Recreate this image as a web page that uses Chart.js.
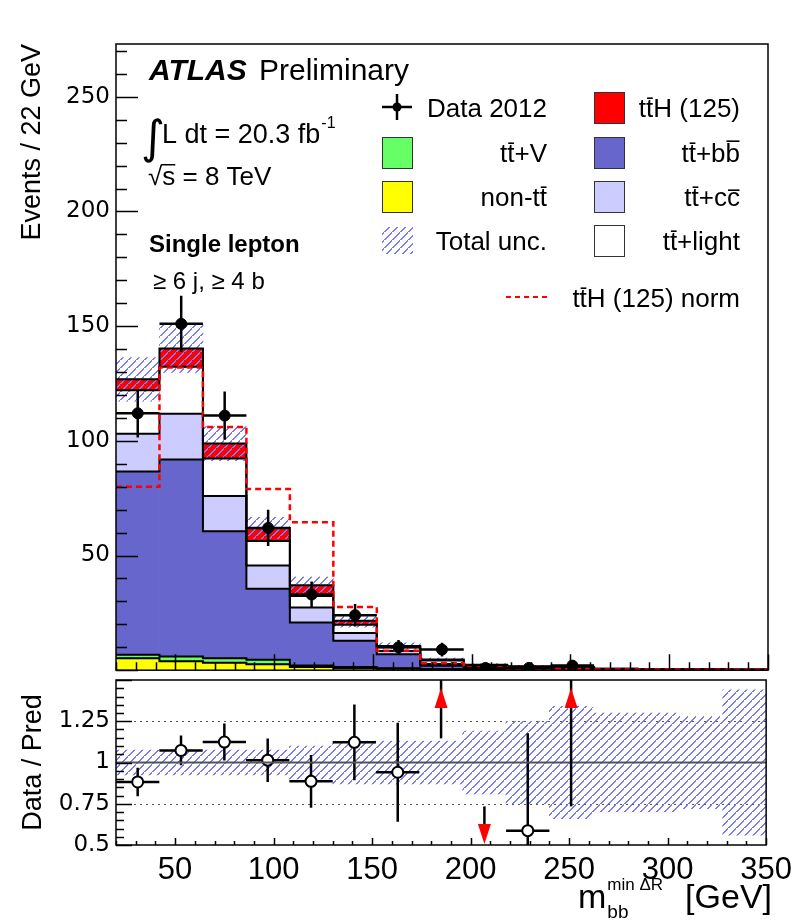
<!DOCTYPE html>
<html>
<head>
<meta charset="utf-8">
<script src="https://cdn.jsdelivr.net/npm/chart.js@4.4.1/dist/chart.umd.min.js"></script>
<style>
  html, body { margin: 0; padding: 0; background: #fff; }
  #wrap { position: relative; width: 799px; height: 923px; overflow: hidden; }
  #cMain { position: absolute; left: 0; top: 0; }
  #cRatio { position: absolute; left: 0; top: 660px; }
</style>
</head>
<body>
<div id="wrap">
  <canvas id="cMain" width="799" height="690"></canvas>
  <canvas id="cRatio" width="799" height="263"></canvas>
</div>
<script>
// bins of 22 GeV between 20 and 350 GeV
const binCenters = [31, 53, 75, 97, 119, 141, 163, 185, 207, 229, 251, 273, 295, 317, 339];
const binHalf = 11;

// stacked predictions, bottom -> top (events / bin)
const nonTT   = [5.2, 3.9, 3.3, 2.6, 1.4, 0.9, 0.6, 0.3, 0.2, 0.1, 0.1, 0.05, 0.05, 0.03, 0.02];
const ttV     = [1.5, 2.1, 1.9, 2.0, 0.6, 0.5, 0.3, 0.1, 0.1, 0.05, 0.05, 0.02, 0.02, 0.01, 0.01];
const ttbb    = [79.9, 85.9, 55.4, 30.9, 18.8, 11.4, 6.0, 1.5, 1.0, 0.7, 0.5, 0.3, 0.25, 0.2, 0.15];
const ttcc    = [16.5, 19.9, 15.3, 10.1, 6.5, 3.4, 1.5, 0.8, 0.4, 0.3, 0.2, 0.1, 0.1, 0.08, 0.06];
const ttlight = [18.9, 20.5, 16.4, 10.7, 5.1, 3.6, 1.6, 1.5, 0.5, 0.4, 0.3, 0.12, 0.1, 0.08, 0.06];
const ttH     = [4.8, 8.0, 6.5, 5.7, 4.6, 1.8, 0.6, 0.5, 0.2, 0.15, 0.1, 0.05, 0.04, 0.03, 0.02];

// ttH normalised to the total background (dashed red)
const ttHnorm = [80, 132, 106, 79, 64.5, 27.5, 8.5, 3.0, 1.3, 0.6, 0.5, 0.3, 0.3, 0.2, 0.2];

// total relative uncertainty (hatched band)
const relUnc = [0.075, 0.075, 0.075, 0.075, 0.10, 0.13, 0.13, 0.13, 0.19, 0.25, 0.34, 0.30, 0.30, 0.28, 0.44];

// data 2012
const dataVals = [112, 151, 111, 62, 33, 24, 10, 9, 1, 1, 2, null, null, null, null];
const dataErr  = [10.6, 12.3, 10.5, 7.9, 5.7, 4.9, 3.2, 3.0, 1.0, 1.0, 1.4, null, null, null, null];

// ratio panel
const ratioVal = [0.882, 1.073, 1.124, 1.014, 0.886, 1.122, 0.941, null, null, 0.587, null, null, null, null, null];
const ratioErr = [0.086, 0.09, 0.112, 0.132, 0.16, 0.23, 0.30, null, null, 0.59, null, null, null, null, null];
// out of range: +1 arrow up, -1 arrow down, with the end of the error bar
const arrowDir  = [0, 0, 0, 0, 0, 0, 0, 1, -1, 0, 1, 0, 0, 0, 0];
const arrowFrom = [null, null, null, null, null, null, null, 1.146, 0.734, null, 0.734, null, null, null, null];

const FONT = '"Liberation Sans", Arial, sans-serif';
const NUMFONT = '"DejaVu Sans", sans-serif';
const HATCH = '#7a7aff';

// "/" hatch tile, 2px wide strokes so the blue survives
function makeHatch(ctx) {
  const c = document.createElement('canvas');
  c.width = 8; c.height = 8;
  const g = c.getContext('2d');
  g.fillStyle = HATCH;
  for (let i = 0; i < 8; i++) g.fillRect(i, 7 - i, 2, 1);
  g.fillRect(0, 7, 1, 1);
  return ctx.createPattern(c, 'repeat');
}

function stepPoints(vals) {
  const pts = vals.map((v, i) => ({ x: binCenters[i] - binHalf, y: v }));
  pts.push({ x: binCenters[vals.length - 1] + binHalf, y: vals[vals.length - 1] });
  return pts;
}

// text with ROOT style bars: "~t" = t with an overline
function drawRich(ctx, str, x, y, size, align, weight) {
  ctx.font = (weight || 'normal') + ' ' + size + 'px ' + FONT;
  const chars = [];
  for (let i = 0; i < str.length; i++) {
    if (str[i] === '~') { chars.push({ c: str[i + 1], bar: true }); i++; }
    else chars.push({ c: str[i], bar: false });
  }
  const plain = chars.map(o => o.c).join('');
  const w = ctx.measureText(plain).width;
  const x0 = align === 'right' ? x - w : x;
  ctx.textAlign = 'left';
  ctx.textBaseline = 'alphabetic';
  ctx.fillText(plain, x0, y);
  let acc = '';
  chars.forEach(o => {
    const a = x0 + ctx.measureText(acc).width;
    acc += o.c;
    if (o.bar) {
      const b = x0 + ctx.measureText(acc).width;
      const asc = Math.max(ctx.measureText(o.c).actualBoundingBoxAscent, size * 0.5);
      ctx.fillRect(a + 1, y - asc - size * 0.1, b - a - 1.5, 1.6);
    }
  });
  return w;
}

function frameTicks(cfg) {
  return {
    id: 'frameTicks',
    afterDatasetsDraw(chart) {
      const { ctx, chartArea: a } = chart;
      const x = chart.scales.x, y = chart.scales.y;
      ctx.save();
      ctx.strokeStyle = '#000';
      ctx.lineWidth = 1.5;
      ctx.beginPath();
      const ny = Math.round((y.max - y.min) / cfg.yMinor);
      for (let k = 0; k <= ny; k++) {
        const v = y.min + k * cfg.yMinor;
        const maj = Math.abs(v / cfg.yMajor - Math.round(v / cfg.yMajor)) < 1e-6;
        const py = Math.round(y.getPixelForValue(v)) + 0.5;
        ctx.moveTo(a.left, py); ctx.lineTo(a.left + (maj ? cfg.yMajLen : cfg.yMinLen), py);
      }
      const nx = Math.round((x.max - x.min) / 10);
      for (let k = 0; k <= nx; k++) {
        const v = x.min + k * 10;
        const maj = v % 50 === 0;
        const px = Math.round(x.getPixelForValue(v)) + 0.5;
        ctx.moveTo(px, a.bottom); ctx.lineTo(px, a.bottom - (maj ? cfg.xMajLen : cfg.xMinLen));
      }
      ctx.stroke();
      ctx.strokeRect(a.left, a.top, a.right - a.left, a.bottom - a.top);
      ctx.restore();
    }
  };
}

function clipTo(ctx, a) {
  ctx.save();
  ctx.beginPath();
  ctx.rect(a.left, a.top, a.right - a.left, a.bottom - a.top);
  ctx.clip();
}

// error bars, drawn just before the dataset that carries them
const errorBars = {
  id: 'errorBars',
  beforeDatasetDraw(chart, args) {
    const ds = chart.data.datasets[args.index];
    if (!ds.errY) return;
    const { ctx, chartArea } = chart;
    const x = chart.scales.x, y = chart.scales.y;
    clipTo(ctx, chartArea);
    ctx.strokeStyle = '#000';
    ctx.lineWidth = 2.5;
    ctx.beginPath();
    ds.data.forEach((p, i) => {
      const e = ds.errY[i];
      const px = x.getPixelForValue(p.x), py = y.getPixelForValue(p.y);
      ctx.moveTo(x.getPixelForValue(p.x - binHalf), py);
      ctx.lineTo(x.getPixelForValue(p.x + binHalf), py);
      ctx.moveTo(px, y.getPixelForValue(p.y - e));
      ctx.lineTo(px, y.getPixelForValue(p.y + e));
    });
    ctx.stroke();
    ctx.restore();
  }
};

// ---------- main panel ----------
const mainCtx = document.getElementById('cMain').getContext('2d');
const hatchMain = makeHatch(mainCtx);

const comps = [
  { vals: nonTT,   color: '#ffff00' },
  { vals: ttV,     color: '#66ff66' },
  { vals: ttbb,    color: '#6666cc' },
  { vals: ttcc,    color: '#ccccff' },
  { vals: ttlight, color: '#ffffff' },
  { vals: ttH,     color: '#ff0000' }
];

let cum = binCenters.map(() => 0);
const mainSets = [];
comps.forEach(c => {
  const lo = cum.slice();
  cum = cum.map((v, i) => v + c.vals[i]);
  mainSets.push({
    type: 'bar',
    data: binCenters.map((xc, i) => ({ x: xc, y: [lo[i], cum[i]] })),
    backgroundColor: c.color,
    borderWidth: 0,
    grouped: false,
    barPercentage: 1,
    categoryPercentage: 1,
    order: 10
  });
  mainSets.push({
    type: 'line',
    data: stepPoints(cum),
    stepped: 'before',
    borderColor: '#000',
    borderWidth: 2,
    pointRadius: 0,
    fill: false,
    order: 7
  });
});
const total = cum.slice();

mainSets.push({
  type: 'bar',
  data: binCenters.map((xc, i) => ({ x: xc, y: [total[i] * (1 - relUnc[i]), total[i] * (1 + relUnc[i])] })),
  backgroundColor: hatchMain,
  borderWidth: 0,
  grouped: false,
  barPercentage: 1,
  categoryPercentage: 1,
  order: 8
});

mainSets.push({
  type: 'line',
  data: stepPoints(ttHnorm),
  stepped: 'before',
  borderColor: '#ff0000',
  borderWidth: 2.5,
  borderDash: [6, 4],
  pointRadius: 0,
  fill: false,
  order: 4
});

const dataPts = [], dataE = [];
binCenters.forEach((xc, i) => {
  if (dataVals[i] !== null) { dataPts.push({ x: xc, y: dataVals[i] }); dataE.push(dataErr[i]); }
});
mainSets.push({
  type: 'scatter',
  data: dataPts,
  errY: dataE,
  pointRadius: 5.5,
  pointBackgroundColor: '#000',
  pointBorderColor: '#000',
  order: 1
});

const mainLabels = {
  id: 'mainLabels',
  afterDraw(chart) {
    const ctx = chart.ctx;
    ctx.save();
    ctx.fillStyle = '#000';
    ctx.textBaseline = 'alphabetic';
    ctx.textAlign = 'left';
    ctx.font = 'italic bold 30px ' + FONT;
    ctx.fillText('ATLAS', 149, 80);
    ctx.font = '30px ' + FONT;
    ctx.fillText('Preliminary', 259, 80);

    ctx.font = '46px "DejaVu Sans", sans-serif';
    ctx.fillText('\u222B', 141, 153);
    ctx.font = '27px ' + FONT;
    const lumi = 'L dt = 20.3 fb';
    ctx.fillText(lumi, 162, 143);
    const wl = ctx.measureText(lumi).width;
    ctx.font = '16px ' + FONT;
    ctx.fillText('-1', 162 + wl + 1, 128);

    ctx.font = '26px ' + FONT;
    const wr = ctx.measureText('\u221A').width;
    const ws = ctx.measureText('s').width;
    ctx.fillText('\u221As = 8 TeV', 148, 185);
    ctx.fillRect(148 + wr - 1, 185 - 21, ws + 1, 1.5);

    ctx.font = 'bold 24px ' + FONT;
    ctx.fillText('Single lepton', 149, 252);
    ctx.font = '24px ' + FONT;
    ctx.fillText('\u2265 6 j, \u2265 4 b', 153, 289);

    // legend
    const rows = [107, 152, 196, 240];
    // data marker
    ctx.strokeStyle = '#000';
    ctx.lineWidth = 2.5;
    ctx.beginPath();
    ctx.moveTo(382, rows[0]); ctx.lineTo(412, rows[0]);
    ctx.moveTo(397, rows[0] - 13); ctx.lineTo(397, rows[0] + 13);
    ctx.stroke();
    ctx.beginPath(); ctx.arc(397, rows[0], 4.5, 0, Math.PI * 2); ctx.fill();

    const box = (x, yc, fill) => {
      ctx.fillStyle = fill;
      ctx.fillRect(x, yc - 15, 30, 31);
      ctx.strokeStyle = '#333';
      ctx.lineWidth = 1;
      ctx.strokeRect(x + 0.5, yc - 14.5, 30, 31);
      ctx.fillStyle = '#000';
    };
    box(382, rows[1], '#66ff66');
    box(382, rows[2], '#ffff00');
    ctx.fillStyle = hatchMain;
    ctx.fillRect(382, rows[3] - 13, 31, 27);
    ctx.fillStyle = '#000';
    box(594, rows[0], '#ff0000');
    box(594, rows[1], '#6666cc');
    box(594, rows[2], '#ccccff');
    box(594, rows[3], '#ffffff');

    drawRich(ctx, 'Data 2012', 547, rows[0] + 10, 26, 'right');
    drawRich(ctx, 't~t+V', 547, rows[1] + 10, 26, 'right');
    drawRich(ctx, 'non-t~t', 547, rows[2] + 10, 26, 'right');
    drawRich(ctx, 'Total unc.', 547, rows[3] + 10, 26, 'right');
    drawRich(ctx, 't~tH (125)', 740, rows[0] + 10, 26, 'right');
    drawRich(ctx, 't~t+b~b', 740, rows[1] + 10, 26, 'right');
    drawRich(ctx, 't~t+c~c', 740, rows[2] + 10, 26, 'right');
    drawRich(ctx, 't~t+light', 740, rows[3] + 10, 26, 'right');

    ctx.strokeStyle = '#ff0000';
    ctx.lineWidth = 2;
    ctx.setLineDash([5, 4]);
    ctx.beginPath(); ctx.moveTo(506, 297); ctx.lineTo(548, 297); ctx.stroke();
    ctx.setLineDash([]);
    drawRich(ctx, 't~tH (125) norm', 740, 307, 26, 'right');
    ctx.restore();
  }
};

new Chart(mainCtx, {
  type: 'bar',
  data: { datasets: mainSets },
  options: {
    responsive: false,
    animation: false,
    devicePixelRatio: 1,
    layout: { padding: { top: 44, right: 31, bottom: 10, left: 0 } },
    plugins: { legend: { display: false }, tooltip: { enabled: false } },
    scales: {
      x: {
        type: 'linear', min: 20, max: 350, display: false, offset: false,
        ticks: { stepSize: 50, includeBounds: false }
      },
      y: {
        type: 'linear', min: 0, max: 273,
        afterFit: s => { s.width = 116; },
        grid: { display: false, drawTicks: false },
        border: { display: false },
        ticks: {
          stepSize: 50, includeBounds: false, padding: 6, color: '#000',
          font: { family: NUMFONT, size: 23 },
          callback: v => (v === 0 ? '' : String(v))
        },
        title: {
          display: true, text: 'Events / 22 GeV', align: 'end', color: '#000',
          font: { family: FONT, size: 27 }, padding: { top: 16, bottom: 0 }
        }
      }
    }
  },
  plugins: [errorBars, frameTicks({ yMinor: 10, yMajor: 50, yMajLen: 22, yMinLen: 11, xMajLen: 16, xMinLen: 8 }), mainLabels]
});

// ---------- ratio panel ----------
const ratioCtx = document.getElementById('cRatio').getContext('2d');
const hatchRatio = makeHatch(ratioCtx);

const ratioPts = [], ratioE = [];
binCenters.forEach((xc, i) => {
  if (ratioVal[i] !== null) { ratioPts.push({ x: xc, y: ratioVal[i] }); ratioE.push(ratioErr[i]); }
});

const ratioExtras = {
  id: 'ratioExtras',
  beforeDatasetsDraw(chart) {
    const { ctx, chartArea: a } = chart;
    const y = chart.scales.y;
    ctx.save();
    ctx.strokeStyle = '#555';
    ctx.lineWidth = 1.2;
    ctx.setLineDash([2, 4]);
    [1.25, 0.75].forEach(v => {
      const py = Math.round(y.getPixelForValue(v)) + 0.5;
      ctx.beginPath(); ctx.moveTo(a.left, py); ctx.lineTo(a.right, py); ctx.stroke();
    });
    ctx.setLineDash([]);
    ctx.restore();
  },
  afterDatasetsDraw(chart) {
    const { ctx, chartArea: a } = chart;
    const x = chart.scales.x, y = chart.scales.y;
    ctx.save();
    // unit line
    ctx.strokeStyle = '#555';
    ctx.lineWidth = 2;
    const p1 = y.getPixelForValue(1);
    ctx.beginPath(); ctx.moveTo(a.left, p1); ctx.lineTo(a.right, p1); ctx.stroke();
    binCenters.forEach((xc, i) => {
      if (!arrowDir[i]) return;
      const px = x.getPixelForValue(xc);
      const pf = y.getPixelForValue(arrowFrom[i]);
      ctx.strokeStyle = '#000';
      ctx.lineWidth = 2.5;
      ctx.beginPath();
      ctx.fillStyle = '#ff0000';
      if (arrowDir[i] > 0) {
        ctx.moveTo(px, pf); ctx.lineTo(px, a.top); ctx.stroke();
        ctx.beginPath();
        ctx.moveTo(px, a.top + 8); ctx.lineTo(px + 6.5, a.top + 28); ctx.lineTo(px - 6.5, a.top + 28);
        ctx.closePath(); ctx.fill();
      } else {
        ctx.moveTo(px, pf); ctx.lineTo(px, a.bottom - 20); ctx.stroke();
        ctx.beginPath();
        ctx.moveTo(px, a.bottom - 1); ctx.lineTo(px + 6.5, a.bottom - 21); ctx.lineTo(px - 6.5, a.bottom - 21);
        ctx.closePath(); ctx.fill();
      }
    });
    ctx.restore();
  },
  afterDraw(chart) {
    const ctx = chart.ctx;
    ctx.save();
    ctx.fillStyle = '#000';
    ctx.textBaseline = 'alphabetic';
    ctx.textAlign = 'left';
    // m_bb^{min ΔR} [GeV]
    const base = 248;
    ctx.font = '34px ' + FONT;
    const wg = ctx.measureText('[GeV]').width;
    const wm = ctx.measureText('m').width;
    ctx.font = '17px ' + FONT;
    const wsup = ctx.measureText('min \u0394R').width;
    const xg = 772 - wg;
    const xs = xg - 22 - wsup;
    const xm = xs - wm - 1;
    ctx.font = '34px ' + FONT;
    ctx.fillText('m', xm, base);
    ctx.fillText('[GeV]', xg, base);
    ctx.font = '17px ' + FONT;
    ctx.fillText('min \u0394R', xs, base - 18);
    ctx.font = '19px ' + FONT;
    ctx.fillText('bb', xs, base + 10);
    ctx.restore();
  }
};

new Chart(ratioCtx, {
  type: 'bar',
  data: {
    datasets: [
      {
        type: 'bar',
        data: binCenters.map((xc, i) => ({ x: xc, y: [1 - relUnc[i], 1 + relUnc[i]] })),
        backgroundColor: hatchRatio,
        borderWidth: 0,
        grouped: false,
        barPercentage: 1,
        categoryPercentage: 1,
        order: 8
      },
      {
        type: 'scatter',
        data: ratioPts,
        errY: ratioE,
        pointRadius: 5.5,
        pointBackgroundColor: '#fff',
        pointBorderColor: '#000',
        pointBorderWidth: 2,
        order: 1
      }
    ]
  },
  options: {
    responsive: false,
    animation: false,
    devicePixelRatio: 1,
    layout: { padding: { top: 20, right: 31, bottom: 0, left: 0 } },
    plugins: { legend: { display: false }, tooltip: { enabled: false } },
    scales: {
      x: {
        type: 'linear', min: 20, max: 350, offset: false,
        afterFit: s => { s.height = 78; },
        grid: { display: false, drawTicks: false },
        border: { display: false },
        ticks: {
          stepSize: 50, includeBounds: false, padding: 7, color: '#000',
          autoSkip: false, maxRotation: 0,
          font: { family: FONT, size: 31 }
        }
      },
      y: {
        type: 'linear', min: 0.5, max: 1.5,
        afterFit: s => { s.width = 116; },
        grid: { display: false, drawTicks: false },
        border: { display: false },
        ticks: {
          stepSize: 0.25, includeBounds: false, padding: 6, color: '#000',
          font: { family: NUMFONT, size: 23 },
          callback: v => (v >= 1.49 ? '' : String(v))
        },
        title: {
          display: true, text: 'Data / Pred', align: 'center', color: '#000',
          font: { family: FONT, size: 27 }, padding: { top: 17, bottom: 0 }
        }
      }
    }
  },
  plugins: [errorBars, ratioExtras, frameTicks({ yMinor: 0.05, yMajor: 0.25, yMajLen: 16, yMinLen: 8, xMajLen: 7, xMinLen: 4 })]
});
</script>
</body>
</html>
